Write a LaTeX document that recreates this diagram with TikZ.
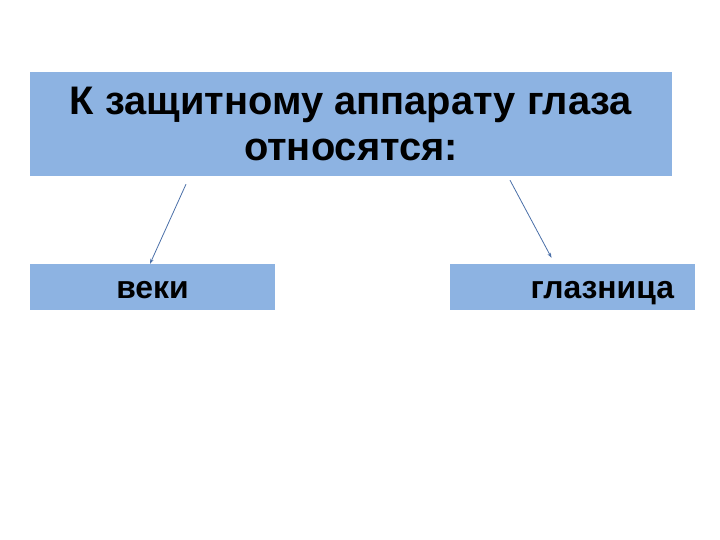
\documentclass[tikz,border=0pt]{standalone}
\usepackage{fontspec}
\setmainfont{Liberation Sans}
\usepackage{xcolor}
\usetikzlibrary{arrows.meta}

\definecolor{boxblue}{HTML}{8DB3E2}
\definecolor{lineblue}{HTML}{4A6FA8}

\tikzset{
    topbox/.style={fill=boxblue, minimum width=642bp, minimum height=104bp, align=center,
        font=\fontsize{40}{47}\selectfont\bfseries},
    itembox/.style={fill=boxblue, minimum width=245bp, minimum height=46bp,
        text height=22bp, text depth=0bp,
        font=\fontsize{32}{36}\selectfont\bfseries},
    conn/.style={lineblue, line width=0.8bp, -{Stealth[length=5bp,width=3.5bp]}}
}

\begin{document}
\begin{tikzpicture}[x=1bp, y=-1bp]

    % Fix the page size
    \useasboundingbox (0,0) rectangle (720,540);

    % Draw the heading box
    \node[topbox] (top) at (351,124) {К защитному аппарату глаза\\относятся:};

    % Draw the two item boxes
    \node[itembox] (veki) at (152.5,287) {веки};
    \node[itembox, text width=203bp, align=right] (glaz) at (572.5,287) {глазница};

    % Draw the arrows
    \draw[conn] ([xshift=-165bp, yshift=-8bp]top.south) -- ([xshift=-2.5bp]veki.north);
    \draw[conn] ([xshift=159bp, yshift=-4bp]top.south) -- ([xshift=-21bp, yshift=6bp]glaz.north);

\end{tikzpicture}
\end{document}
